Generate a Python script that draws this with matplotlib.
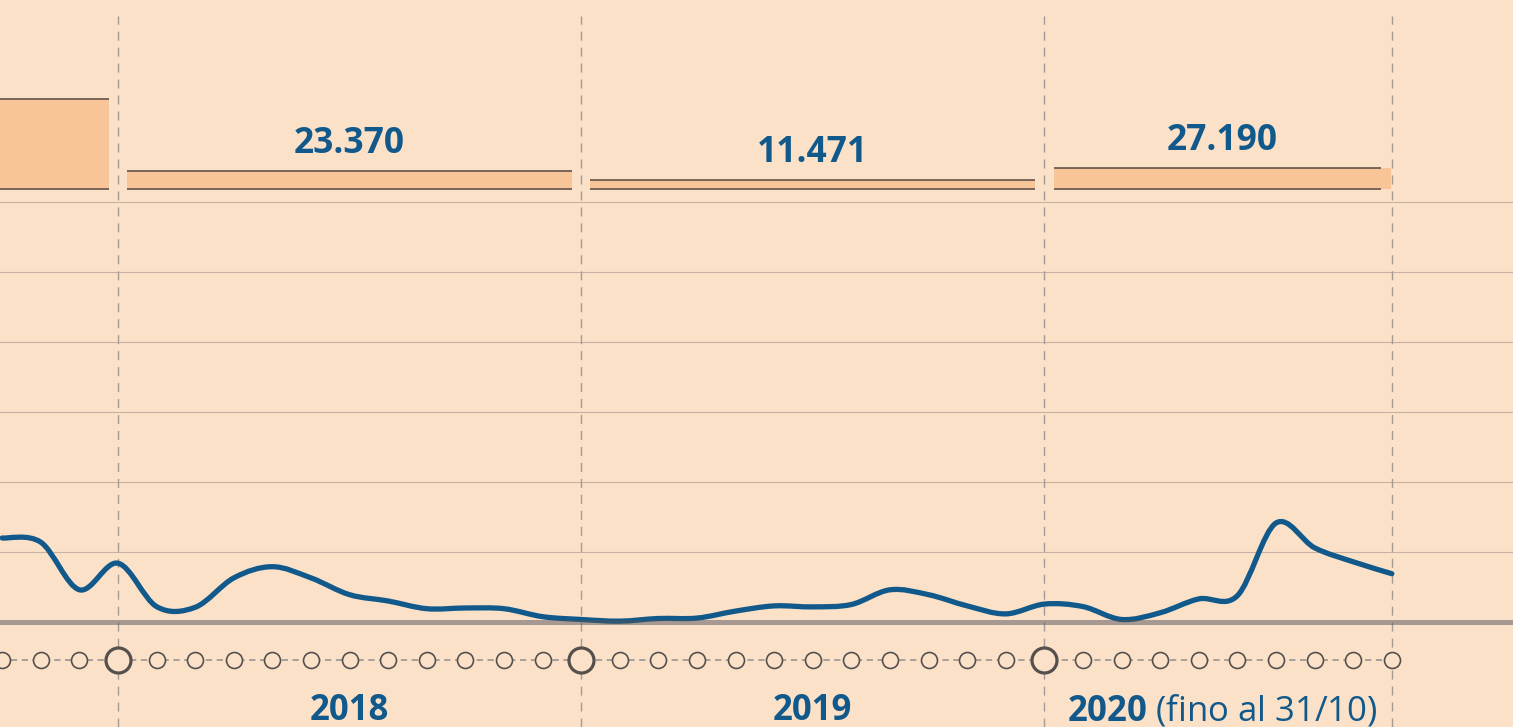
import numpy as np
import pandas as pd
import matplotlib
matplotlib.use("Agg")
import matplotlib.pyplot as plt
from matplotlib.path import Path
from matplotlib.patches import PathPatch
import matplotlib.transforms as mtransforms

plt.rcParams['font.family'] = ['Open Sans', 'DejaVu Sans']
plt.rcParams['mathtext.fontset'] = 'custom'
plt.rcParams['mathtext.bf'] = 'Open Sans:bold'
plt.rcParams['mathtext.rm'] = 'Open Sans'

# --- DATA ---
# monthly sea arrivals, Oct 2017 .. Oct 2020
months = pd.period_range('2017-10', '2020-10', freq='M')
arrivals = [6000, 5700, 2300,
            4200, 1100, 1050, 3150, 3950, 3150, 1950, 1500, 950, 1000, 950, 380,
            180, 60, 250, 280, 780, 1150, 1080, 1250, 2300, 1950, 1150, 580,
            1280, 1100, 180, 660, 1650, 1880, 7070, 5300, 4300, 3450]

# yearly totals (bars on top)
years = [2017, 2018, 2019, 2020]
yearly_totals = [119000, 23370, 11471, 27190]
year_labels = ['2018', '2019', r'$\bf{2020}$ (fino al 31/10)']

# --- STYLE ---
BG = '#FCE1C9'
BAR_FILL = '#F8C599'
BAR_RULE = '#55473E'
BLUE = '#11598A'
GRID = '#C6B2A4'
DASH = '#A39B94'
RING = '#55504D'

PX_MONTH = 38.6   # pixels per month
W, H = 1520, 727
AX_W = 1513


def month_pos(p):
    # months counted from Jan 2018
    return (p.year - 2018) * 12 + (p.month - 1)


x = np.array([month_pos(p) for p in months], dtype=float)
y = np.array(arrivals, dtype=float)

fig = plt.figure(figsize=(W / 100, H / 100), dpi=100, facecolor='white')
ax = fig.add_axes([0, 0, AX_W / W, 1])
ax.set_facecolor(BG)
ax.set_xlim(-118 / PX_MONTH, (AX_W - 118) / PX_MONTH)
# zero at 622 px from top, 5000 every 70 px
ax.set_ylim(-(H - 622) / 70 * 5000, 622 / 70 * 5000)
ax.set_xticks([])
ax.set_yticks([])
for s in ax.spines.values():
    s.set_visible(False)

# horizontal grid
for g in range(5000, 30001, 5000):
    ax.axhline(g, color=GRID, lw=0.8, zorder=1)

# year dividers
for xv in [0, 12, 24, 33]:
    ax.axvline(xv, ymin=0, ymax=1 - 16 / H, color=DASH, lw=1.0,
               linestyle=(0, (6.5, 5)), zorder=2)

# smooth line through monthly points (Catmull-Rom as cubic Bezier)
pts = np.column_stack([x, y])
ext = np.vstack([pts[0], pts, pts[-1]])
verts = [tuple(pts[0])]
codes = [Path.MOVETO]
for i in range(len(pts) - 1):
    p0, p1, p2, p3 = ext[i], ext[i + 1], ext[i + 2], ext[i + 3]
    c1 = p1 + (p2 - p0) / 6
    c2 = p2 - (p3 - p1) / 6
    verts += [tuple(c1), tuple(c2), tuple(p2)]
    codes += [Path.CURVE4] * 3
ax.add_patch(PathPatch(Path(verts, codes), fill=False, edgecolor=BLUE,
                       lw=3.8, capstyle='round', joinstyle='round', zorder=4))

# zero line, drawn semi-transparent over the curve
ax.axhline(0, color='#54535C', alpha=0.5, lw=3.6, zorder=5)

# month markers
trans = mtransforms.blended_transform_factory(ax.transData, ax.transAxes)
mark_y = 1 - 660 / H
ax.plot([ax.get_xlim()[0], x[-1]], [mark_y, mark_y], transform=trans,
        color=DASH, lw=1.3, linestyle=(0, (3.5, 2.5)), zorder=3)
is_jan = np.array([p.month == 1 for p in months])
ax.plot(x[~is_jan], np.full((~is_jan).sum(), mark_y), 'o', transform=trans,
        ms=11.5, mfc=BG, mec=RING, mew=1.2, zorder=6)
ax.plot(x[is_jan], np.full(is_jan.sum(), mark_y), 'o', transform=trans,
        ms=18, mfc=BG, mec=RING, mew=2.3, zorder=6)

# --- yearly bars on their own scale ---
bx = ax.twinx()
BAR_PX = 1317  # units per pixel
bx.set_ylim(-(H - 189) * BAR_PX, 189 * BAR_PX)
bx.set_yticks([])
for s in bx.spines.values():
    s.set_visible(False)

gap = 0.24
starts = [-12, 0, 12, 24]
ends = [0, 12, 24, 33.22]
rule_trim = [0, 0, 0, 0.27]
for yr, val, s0, e0, tr in zip(years, yearly_totals, starts, ends, rule_trim):
    left, right = s0 + gap, e0 - gap
    bx.bar(left, val, width=right - left, align='edge', color=BAR_FILL,
           edgecolor='none', zorder=2)
    bx.hlines([val, 0], left, right - tr, color=BAR_RULE, lw=1.1, zorder=3)
    if yr != 2017:
        txt = f"{val:,}".replace(",", ".")
        bx.annotate(txt, xy=((left + right) / 2, val), xytext=(0, 7),
                    textcoords='offset points', ha='center', va='bottom',
                    fontsize=25.5, fontweight='bold', color=BLUE)
        ax.text((left + right) / 2, 1 - 720 / H, year_labels[yr - 2018],
                transform=trans, ha='center', va='baseline', fontsize=25,
                color=BLUE, fontweight='bold' if yr != 2020 else 'normal',
                zorder=7)

fig.savefig('out.png', dpi=100, facecolor='white')
